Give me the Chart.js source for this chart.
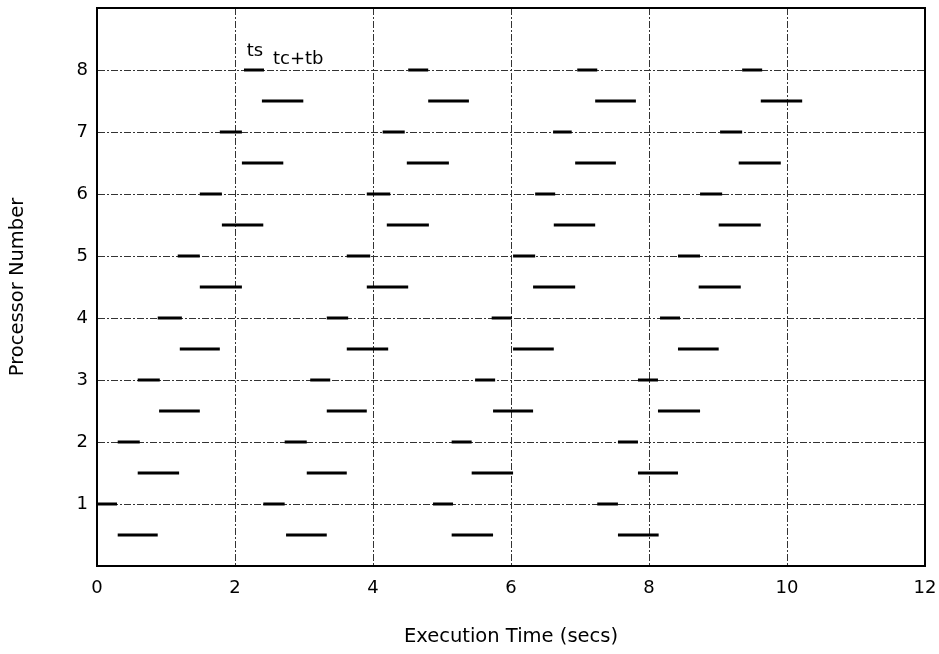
<!DOCTYPE html>
<html>
<head>
<meta charset="utf-8">
<script src="https://cdn.jsdelivr.net/npm/chart.js@4.4.0/dist/chart.umd.min.js"></script>
<style>
  html, body { margin: 0; padding: 0; background: #fff; }
  #wrap { width: 939px; height: 654px; }
</style>
</head>
<body>
<div id="wrap"><canvas id="procChart"></canvas></div>
<script>
const processors = [1, 2, 3, 4, 5, 6, 7, 8];
const xTicks = [0, 2, 4, 6, 8, 10, 12];

// tc+tb bars, drawn half a row below each processor line; one row per cycle
const tcStart = [
  [0.30, 0.59, 0.90, 1.20, 1.49, 1.81, 2.10, 2.39],
  [2.74, 3.04, 3.33, 3.62, 3.91, 4.20, 4.49, 4.80],
  [5.14, 5.43, 5.74, 6.03, 6.32, 6.62, 6.93, 7.22],
  [7.55, 7.84, 8.13, 8.42, 8.72, 9.01, 9.30, 9.62]
];
const tcEnd = [
  [0.88, 1.19, 1.49, 1.78, 2.10, 2.41, 2.70, 2.99],
  [3.33, 3.62, 3.91, 4.22, 4.51, 4.81, 5.10, 5.39],
  [5.74, 6.03, 6.32, 6.62, 6.93, 7.22, 7.52, 7.81],
  [8.14, 8.42, 8.74, 9.01, 9.33, 9.62, 9.91, 10.22]
];

// ts marks, drawn on the processor line itself
const tsStart = [
  [0.00, 0.30, 0.59, 0.88, 1.17, 1.49, 1.78, 2.13],
  [2.41, 2.72, 3.09, 3.33, 3.62, 3.91, 4.14, 4.51],
  [4.87, 5.14, 5.48, 5.72, 6.03, 6.35, 6.61, 6.96],
  [7.25, 7.55, 7.84, 8.16, 8.42, 8.74, 9.03, 9.35]
];
const tsEnd = [
  [0.29, 0.62, 0.91, 1.23, 1.49, 1.81, 2.10, 2.42],
  [2.72, 3.04, 3.38, 3.64, 3.96, 4.25, 4.46, 4.80],
  [5.16, 5.43, 5.77, 6.01, 6.35, 6.64, 6.88, 7.25],
  [7.55, 7.84, 8.13, 8.45, 8.74, 9.06, 9.35, 9.64]
];

// text labels inside the plot
const notes = [
  { text: 'ts', x: 2.17, y: 8.23 },
  { text: 'tc+tb', x: 2.55, y: 8.09 }
];

const FONT = "'DejaVu Sans', sans-serif";

// turn start/end tables into one broken polyline
function segments(starts, ends, offset) {
  const pts = [];
  starts.forEach((row, c) => {
    row.forEach((s, i) => {
      const y = processors[i] + offset;
      pts.push({ x: s, y: y }, { x: ends[c][i], y: y }, { x: ends[c][i], y: null });
    });
  });
  return pts;
}

// no label overhang padding, so the plot box sits where the layout says
function noPad(s) {
  s.paddingTop = 0;
  s.paddingBottom = 0;
  s.paddingLeft = 0;
  s.paddingRight = 0;
}

const framePlugin = {
  id: 'frame',
  afterDatasetsDraw(chart) {
    const { ctx, chartArea: a, scales } = chart;
    ctx.save();
    ctx.strokeStyle = '#000';
    ctx.lineWidth = 2;
    ctx.strokeRect(a.left, a.top, a.right - a.left, a.bottom - a.top);
    ctx.fillStyle = '#000';
    ctx.font = '18px ' + FONT;
    ctx.textBaseline = 'alphabetic';
    notes.forEach(n => {
      ctx.fillText(n.text, scales.x.getPixelForValue(n.x), scales.y.getPixelForValue(n.y));
    });
    ctx.restore();
  }
};

const lineStyle = {
  showLine: true,
  spanGaps: false,
  pointRadius: 0,
  borderColor: '#000',
  borderWidth: 3,
  borderCapStyle: 'butt'
};

new Chart(document.getElementById('procChart'), {
  type: 'scatter',
  data: {
    datasets: [
      Object.assign({ label: 'tc+tb', data: segments(tcStart, tcEnd, -0.5) }, lineStyle),
      Object.assign({ label: 'ts', data: segments(tsStart, tsEnd, 0) }, lineStyle)
    ]
  },
  options: {
    responsive: true,
    maintainAspectRatio: false,
    animation: false,
    layout: { padding: { top: 8, right: 14, left: 0, bottom: 0 } },
    plugins: { legend: { display: false }, tooltip: { enabled: false } },
    scales: {
      x: {
        type: 'linear',
        min: 0,
        max: 12,
        afterBuildTicks: s => { s.ticks = xTicks.map(v => ({ value: v })); },
        afterFit: s => { s.height = 88; noPad(s); },
        ticks: { color: '#000', font: { family: FONT, size: 18 }, padding: 12, maxRotation: 0 },
        grid: { color: '#333', lineWidth: 1, drawTicks: false },
        border: { display: true, color: '#000', width: 2, dash: [7, 2, 2, 2] },
        title: {
          display: true,
          text: 'Execution Time (secs)',
          color: '#000',
          font: { family: FONT, size: 19.5 },
          padding: { top: 0, bottom: 5 }
        }
      },
      y: {
        type: 'linear',
        min: 0,
        max: 9,
        afterBuildTicks: s => { s.ticks = processors.map(v => ({ value: v })); },
        afterFit: s => { s.width = 97; noPad(s); },
        ticks: { color: '#000', font: { family: FONT, size: 18 }, padding: 9 },
        grid: { color: '#333', lineWidth: 1, drawTicks: false },
        border: { display: true, color: '#000', width: 2, dash: [7, 2, 2, 2] },
        title: {
          display: true,
          text: 'Processor Number',
          color: '#000',
          font: { family: FONT, size: 19.5 },
          padding: { top: 6, bottom: 0 }
        }
      }
    }
  },
  plugins: [framePlugin]
});
</script>
</body>
</html>
